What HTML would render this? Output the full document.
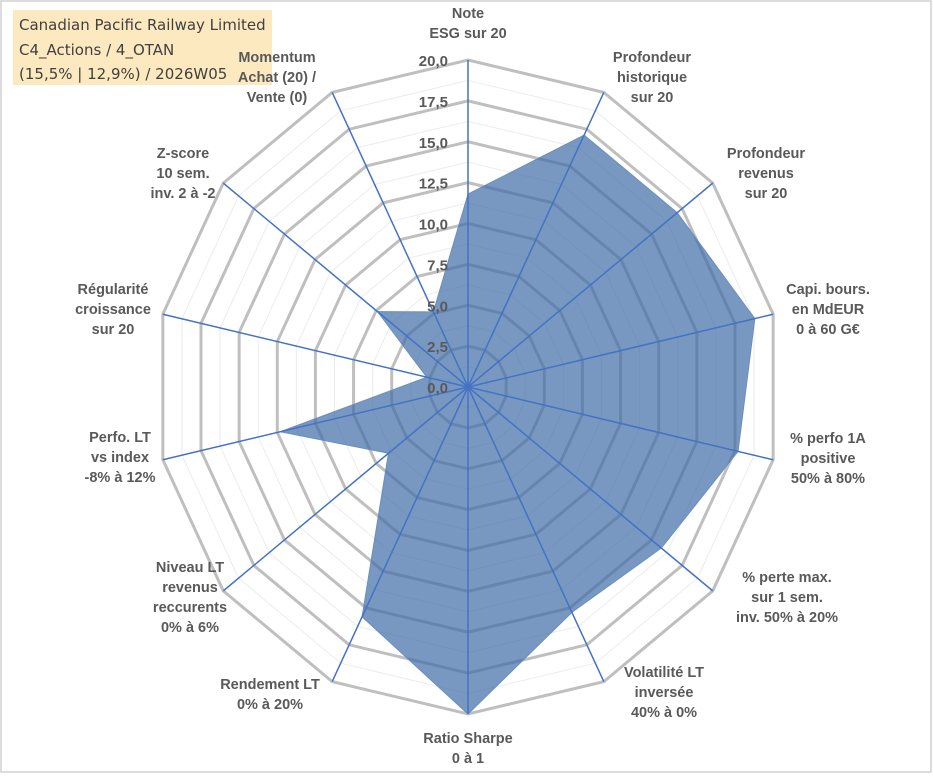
<!DOCTYPE html>
<html><head><meta charset="utf-8"><style>
body{margin:0;background:#fff;}
svg{display:block;}
.lb{font-family:"Liberation Sans",sans-serif;font-weight:bold;font-size:14.5px;fill:#595959;}
.tk{font-family:"Liberation Sans",sans-serif;font-weight:bold;font-size:15px;fill:#595959;}
.tt{font-family:"DejaVu Sans","Liberation Sans",sans-serif;font-size:15px;fill:#404040;}
</style></head><body>
<svg id="chart" width="933" height="776">
<rect x="1" y="1" width="930" height="771" fill="#fff" stroke="#d0d0d0" stroke-width="1.5"/>
<g id="grid"></g><g id="area"></g><g id="axes"></g><g id="ticks"></g>
<rect x="13" y="10" width="259" height="75" fill="#fde9c0"/>
<text class="tt" x="19" y="30">Canadian Pacific Railway Limited</text>
<text class="tt" x="19" y="55">C4_Actions / 4_OTAN</text>
<text class="tt" x="19" y="79">(15,5% | 12,9%) / 2026W05</text>
<g id="labels"></g>
</svg>
<script>
const categories=[["Note","ESG sur 20"],["Profondeur","historique","sur 20"],["Profondeur","revenus","sur 20"],["Capi. bours.","en MdEUR","0 à 60 G€"],["% perfo 1A","positive","50% à 80%"],["% perte max.","sur 1 sem.","inv. 50% à 20%"],["Volatilité LT","inversée","40% à 0%"],["Ratio Sharpe","0 à 1"],["Rendement LT","0% à 20%"],["Niveau LT","revenus","reccurents","0% à 6%"],["Perfo. LT","vs index","-8% à 12%"],["Régularité","croissance","sur 20"],["Z-score","10 sem.","inv. 2 à -2"],["Momentum","Achat (20) /","Vente (0)"]];
const values=[11.8,17.1,17.1,18.8,17.7,15.8,15.3,20,15.6,6.5,12.3,2.7,7.4,5.1];
const tickLabels=["0,0","2,5","5,0","7,5","10,0","12,5","15,0","17,5","20,0"];
const labelPos=[[468,18],[652,62],[766,158],[828,294],[828,443],[787,582],[664,677],[468,743],[270,689],[190,572],[120,442],[113,294],[183,158],[277,62]];
const NS="http://www.w3.org/2000/svg";
const cx=468,cy=387,rx=313,ry=327,maxV=20,n=categories.length;
function pt(i,v){const a=2*Math.PI*i/n;return [cx+rx*(v/maxV)*Math.sin(a),cy-ry*(v/maxV)*Math.cos(a)];}
function mk(tag,attrs,parent){const e=document.createElementNS(NS,tag);for(const k in attrs)e.setAttribute(k,attrs[k]);document.getElementById(parent).appendChild(e);return e;}
for(let r=1;r<=16;r++){const v=r*1.25;const p=[];for(let i=0;i<n;i++)p.push(pt(i,v).join(","));
const e=mk("polygon",{points:p.join(" "),fill:"none",stroke:r%2==0?"#bfbfbf":"#ececec","stroke-width":r%2==0?3:1},"grid");

}
const ap=values.map((v,i)=>pt(i,v).join(",")).join(" ");
const ar=mk("polygon",{points:ap,fill:"rgba(62,108,166,0.7)",stroke:"#6a8fbf","stroke-width":1},"area");


for(let i=0;i<n;i++){const e=pt(i,maxV);const l=mk("line",{x1:cx,y1:cy,x2:e[0],y2:e[1],stroke:"#4472c4","stroke-width":1.5},"axes");

}
tickLabels.forEach((t,k)=>{const y=cy-ry*(k*2.5/maxV);const e=mk("text",{x:cx-20,y:y+6,"text-anchor":"end",class:"tk"},"ticks");e.textContent=t;

});
categories.forEach((c,i)=>{const [x,y]=labelPos[i];const t=mk("text",{x:x,y:y,"text-anchor":"middle",class:"lb"},"labels");


c.forEach((s,j)=>{const ts=document.createElementNS(NS,"tspan");ts.setAttribute("x",x);ts.setAttribute("dy",j?20:0);ts.textContent=s;t.appendChild(ts);});});
</script>
</body></html>
